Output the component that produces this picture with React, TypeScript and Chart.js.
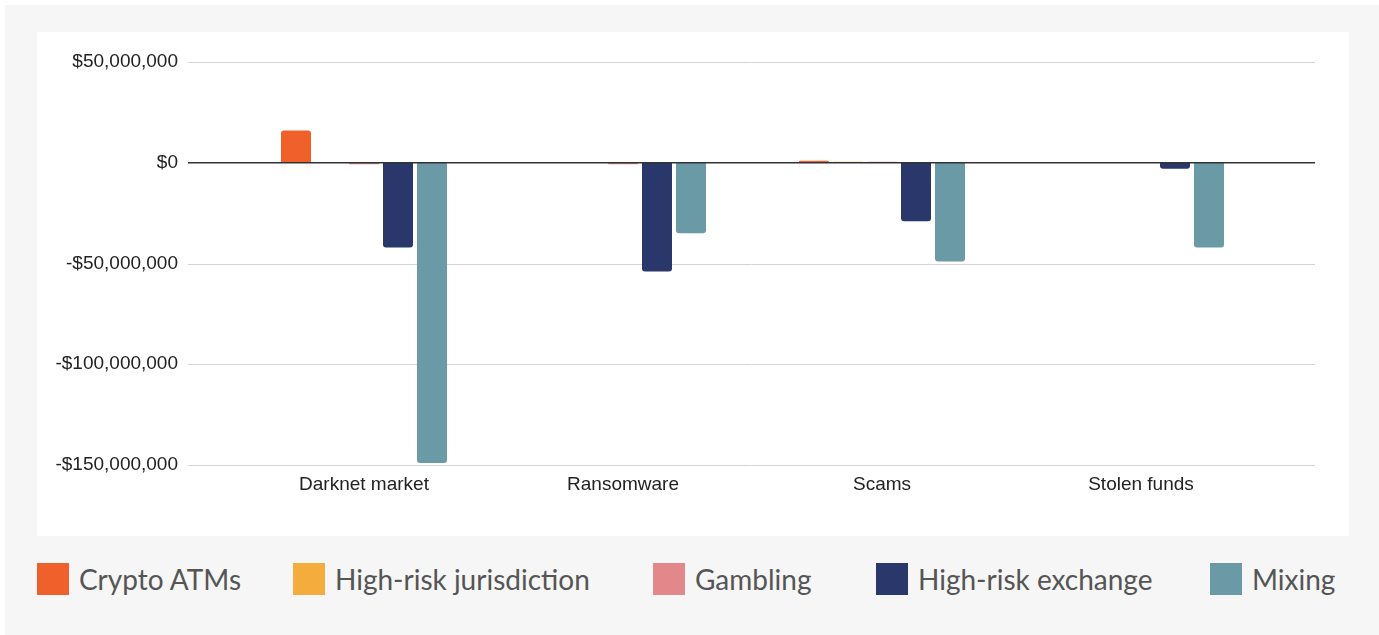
import React, { useEffect, useRef } from 'react';
import { Chart, registerables } from 'chart.js';

Chart.register(...registerables);

const categories = ['Darknet market', 'Ransomware', 'Scams', 'Stolen funds'];
const seriesNames = ['Crypto ATMs', 'High-risk jurisdiction', 'Gambling', 'High-risk exchange', 'Mixing'];
const cryptoATMs = [16000000, 0, 1000000, 0];
const highRiskJurisdiction = [0, 0, 500000, 0];
const gambling = [-800000, -800000, 500000, 0];
const highRiskExchange = [-42000000, -54000000, -29000000, -3000000];
const mixing = [-149000000, -35000000, -49000000, -42000000];
const yTicks = [50000000, 0, -50000000, -100000000, -150000000];
const seriesColors = ['#f0602b', '#f4ac3d', '#e2878a', '#29376b', '#6a9aa6'];

const seriesValues = [cryptoATMs, highRiskJurisdiction, gambling, highRiskExchange, mixing];

// legend item left edges (page layout)
const legendLefts = [32, 288, 648, 871, 1205];

function formatMoney(v: number): string {
  const abs = Math.abs(v).toLocaleString('en-US');
  return (v < 0 ? '-$' : '$') + abs;
}

const extGrid = {
  id: 'extGrid',
  beforeDatasetsDraw(chart: any) {
    const { ctx, chartArea, scales } = chart;
    const y = scales.y;
    const x0 = chartArea.left - 46.5;
    const x1 = chartArea.right + 44.5;
    ctx.save();
    ctx.strokeStyle = '#d4d4d4';
    ctx.lineWidth = 1;
    y.ticks.forEach((t: any) => {
      if (t.value === 0) return;
      const py = Math.round(y.getPixelForValue(t.value)) + 0.5;
      ctx.beginPath();
      ctx.moveTo(x0, py);
      ctx.lineTo(x1, py);
      ctx.stroke();
    });
    ctx.restore();
  },
  afterDatasetsDraw(chart: any) {
    const { ctx, chartArea, scales } = chart;
    const y = scales.y;
    const x0 = chartArea.left - 46.5;
    const x1 = chartArea.right + 44.5;
    const py = y.getPixelForValue(0);
    ctx.save();
    ctx.strokeStyle = '#333333';
    ctx.lineWidth = 1.5;
    ctx.beginPath();
    ctx.moveTo(x0, py);
    ctx.lineTo(x1, py);
    ctx.stroke();
    ctx.restore();
  },
};

export default function App() {
  const canvasRef = useRef<HTMLCanvasElement | null>(null);

  useEffect(() => {
    if (!canvasRef.current) return;
    const tickFont = { family: '"Liberation Sans", Arial, sans-serif', size: 19 };
    const chart = new Chart(canvasRef.current, {
      type: 'bar',
      data: {
        labels: categories,
        datasets: seriesNames.map((name, i) => ({
          label: name,
          data: seriesValues[i],
          backgroundColor: seriesColors[i],
          borderWidth: 0,
          borderRadius: 3,
          categoryPercentage: 170 / 259,
          barPercentage: 30 / 34,
        })),
      },
      options: {
        responsive: false,
        animation: false,
        devicePixelRatio: 1,
        layout: { padding: { left: 0, right: 78.5, top: 30, bottom: 32.2 } },
        plugins: {
          legend: { display: false },
          tooltip: { enabled: false },
        },
        scales: {
          x: {
            grid: { display: false, drawTicks: false },
            border: { display: false },
            ticks: {
              font: tickFont,
              color: '#222222',
              padding: 8,
              maxRotation: 0,
              autoSkip: false,
            },
          },
          y: {
            min: -150000000,
            max: 50000000,
            grid: { display: false, drawTicks: true, tickLength: 46.5 },
            border: { display: false },
            afterBuildTicks: (s: any) => {
              s.ticks = yTicks.map((v) => ({ value: v }));
            },
            ticks: {
              font: tickFont,
              color: '#222222',
              padding: 10,
              callback: (v: any) => formatMoney(Number(v)),
            },
            afterFit: (s: any) => {
              s.width = 197.5;
            },
          },
        },
      },
      plugins: [extGrid],
    });
    return () => chart.destroy();
  }, []);

  return (
    <div
      style={{
        position: 'fixed',
        left: 5,
        top: 5,
        width: 1374,
        height: 630,
        background: '#f6f6f6',
      }}
    >
      <div
        style={{
          position: 'absolute',
          left: 32,
          top: 27,
          width: 1312,
          height: 504,
          background: '#ffffff',
        }}
      >
        <canvas ref={canvasRef} width={1312} height={504} style={{ display: 'block', width: 1312, height: 504 }} />
      </div>
      {seriesNames.map((name, i) => (
        <div
          key={name}
          style={{
            position: 'absolute',
            left: legendLefts[i],
            top: 558,
            height: 32,
            display: 'flex',
            alignItems: 'center',
            fontFamily: 'Lato, "Open Sans", sans-serif',
            fontSize: 28,
            color: '#555555',
            whiteSpace: 'nowrap',
          }}
        >
          <span style={{ display: 'inline-block', width: 32, height: 32, background: seriesColors[i], marginRight: 10 }} />
          <span>{name}</span>
        </div>
      ))}
    </div>
  );
}
